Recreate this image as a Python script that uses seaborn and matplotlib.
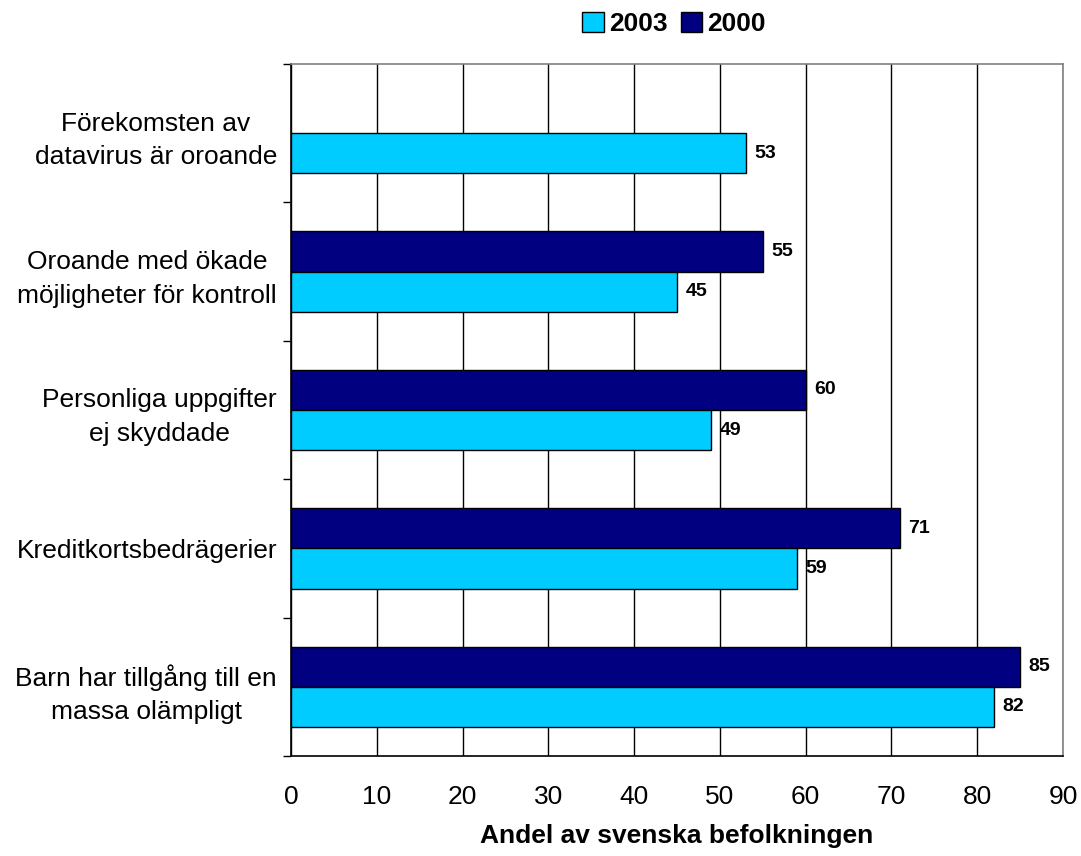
import pandas as pd
import numpy as np
import matplotlib.pyplot as plt
import seaborn as sns
from matplotlib.patches import Patch

kategorier = [
    'Förekomsten av\ndatavirus är oroande',
    'Oroande med ökade\nmöjligheter för kontroll',
    'Personliga uppgifter\nej skyddade',
    'Kreditkortsbedrägerier',
    'Barn har tillgång till en\nmassa olämpligt',
]
andel_2003 = [53, 45, 49, 59, 82]
andel_2000 = [np.nan, 55, 60, 71, 85]
xticks = [0, 10, 20, 30, 40, 50, 60, 70, 80, 90]

farg_2003 = '#00CCFF'
farg_2000 = '#000080'

df = pd.DataFrame({
    'kategori': kategorier * 2,
    'ar': ['2000'] * 5 + ['2003'] * 5,
    'andel': andel_2000 + andel_2003,
})

sns.set_style('white')
plt.rcParams['font.family'] = ['Liberation Sans', 'DejaVu Sans']
plt.rcParams['text.color'] = 'black'
plt.rcParams['xtick.color'] = 'black'
plt.rcParams['ytick.color'] = 'black'
plt.rcParams['axes.labelcolor'] = 'black'

fig = plt.figure(figsize=(10.81, 8.56), dpi=100)
ax = fig.add_axes([291 / 1081, 1 - 756 / 856, (1063 - 291) / 1081, (756 - 64) / 856])

sns.barplot(data=df, y='kategori', x='andel', hue='ar', hue_order=['2000', '2003'],
            order=kategorier, palette={'2000': farg_2000, '2003': farg_2003},
            saturation=1, orient='h', width=0.58, edgecolor='black', linewidth=1,
            legend=False, ax=ax)

for cont in ax.containers:
    ax.bar_label(cont, fmt='%d', padding=6, fontsize=14, fontweight='bold')

ax.set_xlim(0, 90)
ax.set_ylim(len(kategorier) - 0.5, -0.5)
ax.set_xticks(xticks)
ax.tick_params(axis='x', labelsize=19, length=7, width=1, direction='out', pad=14)
ax.tick_params(axis='y', which='major', length=0, labelsize=19, pad=10)
ax.set_yticks(np.arange(len(kategorier) + 1) - 0.5, minor=True)
ax.tick_params(axis='y', which='minor', length=6, width=1, direction='out', left=True)
for lab in ax.get_yticklabels():
    lab.set_multialignment('center')
    lab.set_linespacing(1.5)

ax.grid(axis='x', color='black', linewidth=1)
ax.set_axisbelow(True)
ax.spines['left'].set_color('black')
ax.spines['bottom'].set_color('black')
ax.spines['top'].set_color('#808080')
ax.spines['right'].set_color('#808080')
for s in ax.spines.values():
    s.set_linewidth(1.2)

ax.set_ylabel('')
ax.set_xlabel('Andel av svenska befolkningen', fontsize=19, fontweight='bold', labelpad=11)

handles = [Patch(facecolor=farg_2003, edgecolor='black'), Patch(facecolor=farg_2000, edgecolor='black')]
fig.legend(handles, ['2003', '2000'], loc='center', bbox_to_anchor=(674 / 1081, 1 - 24 / 856),
           ncol=2, frameon=False, prop={'weight': 'bold', 'size': 19},
           handlelength=0.8, handleheight=0.8, handletextpad=0.2, columnspacing=0.5)

fig.savefig('out.png', dpi=100)
